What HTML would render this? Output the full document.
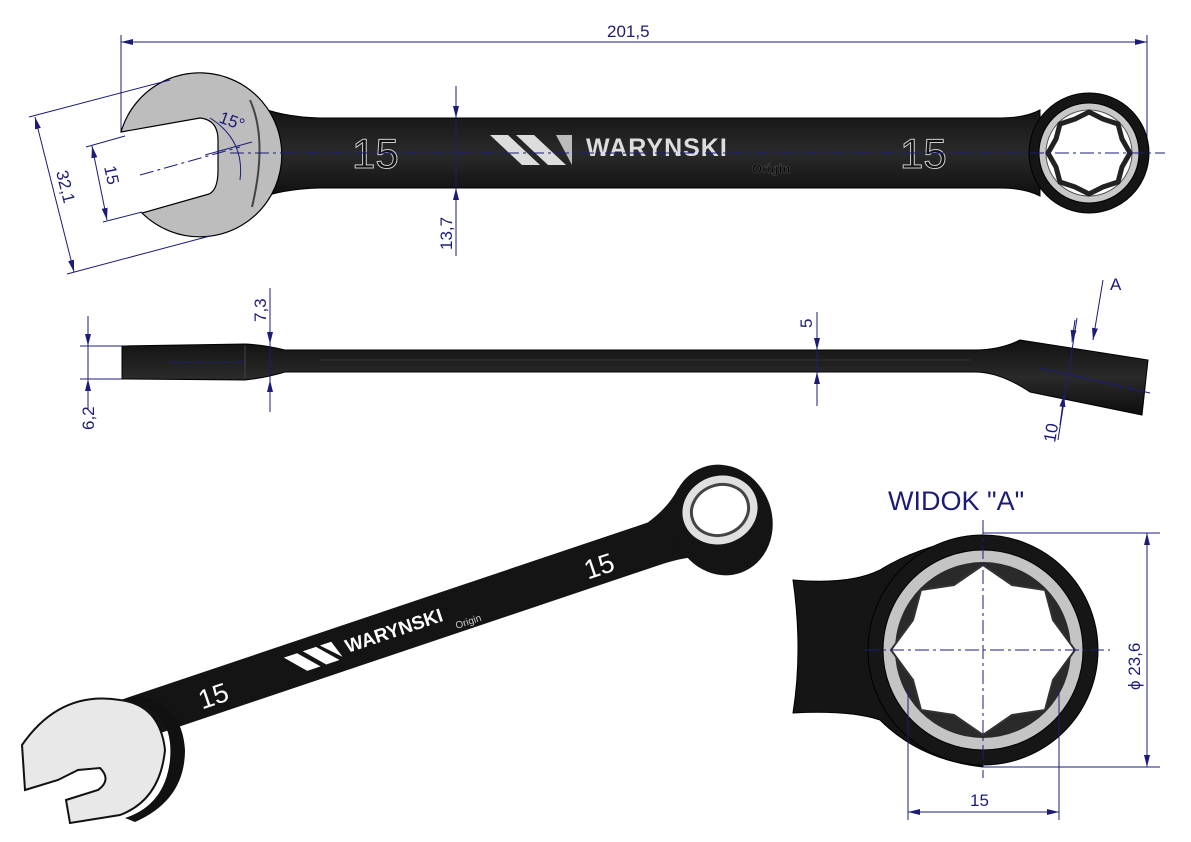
<!DOCTYPE html>
<html><head><meta charset="utf-8"><style>
html,body{margin:0;padding:0;background:#fff;}
svg{display:block;font-family:"Liberation Sans",Arial,sans-serif;}
.d{stroke:#1c1c78;stroke-width:1;fill:none}
.c{stroke:#1c1c78;stroke-width:1;fill:none;stroke-dasharray:14 4 3 4}
.t{fill:#1c1c78;font-size:17px}
</style></head><body>
<svg width="1191" height="842" viewBox="0 0 1191 842" xmlns="http://www.w3.org/2000/svg">
<defs>
<marker id="a" viewBox="0 0 12 6" refX="12" refY="3" markerWidth="12" markerHeight="6" orient="auto-start-reverse" markerUnits="userSpaceOnUse"><path d="M0,0 L12,3 L0,6z" fill="#1c1c78"/></marker>
<linearGradient id="hg" x1="0" y1="0" x2="0" y2="1"><stop offset="0" stop-color="#111"/><stop offset="0.5" stop-color="#2a2a2a"/><stop offset="1" stop-color="#0d0d0d"/></linearGradient>
</defs>

<!-- ===== TOP VIEW ===== -->
<line class="d" x1="121" y1="35" x2="121" y2="132"/>
<line class="d" x1="1147" y1="35" x2="1147" y2="150"/>
<line class="d" x1="121" y1="42" x2="1147" y2="42" marker-start="url(#a)" marker-end="url(#a)"/>
<text class="t" x="607" y="37">201,5</text>

<path d="M255,105 Q280,117 320,118 L1000,118 Q1025,118 1040,110 L1040,196 Q1025,188 1000,188 L320,188 Q280,189 255,200z" fill="url(#hg)" stroke="#000"/>
<path d="M121,132 A82,82 0 1 1 142,213 L209,194 Q218,190 218,170 L218,140 Q218,120 200,118z" fill="#bdbdbd" stroke="#000" stroke-width="1.2"/>
<path d="M250,100 Q268,140 252,207" fill="none" stroke="#444" stroke-width="2"/>
<circle cx="1089" cy="153" r="60" fill="#151515" stroke="#000"/>
<circle cx="1089" cy="153" r="50" fill="#c8c8c8" stroke="#000"/>
<circle cx="1089" cy="153" r="43" fill="#fff" stroke="#555"/>
<polygon points="1089,112 1103,119 1118,124 1122,139 1130,153 1122,167 1118,182 1103,187 1089,194 1075,187 1060,182 1056,167 1048,153 1056,139 1060,124 1075,119" fill="#fff" stroke="#222" stroke-width="5"/>
<text x="352" y="168" font-size="42" fill="#111" stroke="#ccc" stroke-width="1">15</text>
<text x="900" y="168" font-size="42" fill="#111" stroke="#ccc" stroke-width="1">15</text>
<polygon points="490,135 508,135 540,165 522,165" fill="#ddd"/>
<polygon points="516,135 534,135 566,165 548,165" fill="#ddd"/>
<polygon points="556,135 572,135 572,165" fill="#bbb"/>
<text x="586" y="156" font-size="25" font-weight="bold" fill="#ddd" letter-spacing="1">WARYNSKI</text>
<text x="752" y="173" font-size="13" font-weight="bold" fill="#000" stroke="#555" stroke-width="0.5">Origin</text>
<line class="c" x1="230" y1="153" x2="1165" y2="153"/>
<line class="c" x1="140" y1="175" x2="240" y2="147"/>
<line class="d" x1="456" y1="86" x2="456" y2="256"/>
<line class="d" x1="456" y1="86" x2="456" y2="118" marker-end="url(#a)"/>
<line class="d" x1="456" y1="256" x2="456" y2="188" marker-end="url(#a)"/>
<text class="t" transform="translate(452,250) rotate(-90)">13,7</text>
<line class="d" x1="29" y1="117" x2="170" y2="80"/>
<line class="d" x1="67" y1="274" x2="210" y2="236"/>
<line class="d" x1="35" y1="117" x2="74" y2="272" marker-start="url(#a)" marker-end="url(#a)"/>
<text class="t" transform="translate(56,172) rotate(76)">32,1</text>
<line class="d" x1="86" y1="147" x2="125" y2="136"/>
<line class="d" x1="103" y1="222" x2="142" y2="212"/>
<line class="d" x1="92" y1="146" x2="107" y2="220" marker-start="url(#a)" marker-end="url(#a)"/>
<text class="t" transform="translate(104,167) rotate(78)">15</text>
<path class="d" d="M210,118 Q245,140 240,180" />
<line class="d" x1="205" y1="155" x2="252" y2="142"/>
<text class="t" transform="translate(218,122) rotate(20)">15°</text>

<!-- ===== SIDE VIEW ===== -->
<path d="M122,346 L245,344 Q265,345 285,350 L975,350 Q1000,350 1020,340 L1148,360 L1142,415 L1030,392 Q1000,372 975,372 L285,372 Q265,378 245,380 L122,379z" fill="url(#hg)" stroke="#000"/>
<line x1="320" y1="360" x2="970" y2="360" stroke="#333"/>
<line x1="245" y1="346" x2="245" y2="379" stroke="#444"/>
<line class="d" x1="170" y1="362" x2="245" y2="362" style="stroke-dasharray:10 3"/>
<line class="d" x1="1040" y1="368" x2="1150" y2="393"/>
<line class="d" x1="80" y1="346" x2="122" y2="346"/>
<line class="d" x1="80" y1="379" x2="122" y2="379"/>
<line class="d" x1="88" y1="316" x2="88" y2="346" marker-end="url(#a)"/>
<line class="d" x1="88" y1="410" x2="88" y2="379" marker-end="url(#a)"/>
<line class="d" x1="88" y1="346" x2="88" y2="379"/>
<text class="t" transform="translate(94,430) rotate(-90)">6,2</text>
<line class="d" x1="270" y1="288" x2="270" y2="412"/>
<line class="d" x1="270" y1="320" x2="270" y2="344" marker-end="url(#a)"/>
<line class="d" x1="270" y1="400" x2="270" y2="380" marker-end="url(#a)"/>
<text class="t" transform="translate(266,322) rotate(-90)">7,3</text>
<line class="d" x1="817" y1="312" x2="817" y2="406"/>
<line class="d" x1="817" y1="330" x2="817" y2="350" marker-end="url(#a)"/>
<line class="d" x1="817" y1="395" x2="817" y2="372" marker-end="url(#a)"/>
<text class="t" transform="translate(812,328) rotate(-90)">5</text>
<line class="d" x1="1077" y1="318" x2="1058" y2="440"/>
<line class="d" x1="1075" y1="320" x2="1072" y2="342" marker-end="url(#a)"/>
<line class="d" x1="1060" y1="425" x2="1064" y2="395" marker-end="url(#a)"/>
<text class="t" transform="translate(1055,443) rotate(-80)">10</text>
<line class="d" x1="1103" y1="280" x2="1093" y2="340" marker-end="url(#a)"/>
<text class="t" x="1110" y="290" font-size="20">A</text>

<!-- ===== 3D VIEW ===== -->
<g transform="translate(124,722) rotate(-18.6)">
<path d="M-10,-22 L560,-22 Q585,-30 600,-45 L610,30 Q585,22 560,22 L-10,22z" fill="#141414"/>
<text x="78" y="13" font-size="27" fill="#fff">15</text>
<text x="485" y="13" font-size="27" fill="#fff">15</text>
<polygon points="172,-10 186,-10 204,10 190,10" fill="#fff"/>
<polygon points="192,-10 206,-10 224,10 210,10" fill="#fff"/>
<polygon points="210,-10 222,-10 228,8" fill="#fff"/>
<text x="234" y="6" font-size="19" font-weight="bold" fill="#fff">WARYNSKI</text>
<text x="345" y="18" font-size="10" fill="#ccc">Origin</text>
</g>
<ellipse cx="722" cy="520" rx="50" ry="56" transform="rotate(-20 722 520)" fill="#141414"/>
<ellipse cx="720" cy="510" rx="38" ry="34" transform="rotate(-20 720 510)" fill="#e0e0e0"/>
<ellipse cx="720" cy="510" rx="29" ry="25" transform="rotate(-20 720 510)" fill="#fff" stroke="#444" stroke-width="3"/>
<path d="M120,700 Q175,705 170,760 Q165,805 125,818 L135,822 Q185,800 185,750 Q182,703 138,696z" fill="#111"/>
<path d="M22,745 Q60,690 120,700 Q160,705 165,750 Q160,800 120,815 L70,823 L66,800 L98,790 Q112,780 100,768 L78,770 L58,780 L25,790z" fill="#e8e8e8" stroke="#111" stroke-width="2"/>

<!-- ===== WIDOK A ===== -->
<text x="888" y="510" font-size="27" fill="#1c1c78">WIDOK "A"</text>
<path d="M793,580 Q850,585 880,570 Q920,545 983,535 L983,767 Q920,760 880,720 Q850,710 793,713 Q803,650 793,580z" fill="#151515" stroke="#000"/>
<circle cx="983" cy="650" r="115" fill="#161616" stroke="#000"/>
<circle cx="983" cy="650" r="100" fill="#c4c4c4" stroke="#000"/>
<circle cx="983" cy="650" r="88" fill="#2a2a2a"/>
<polygon points="983,565 1012,585 1045,590 1053,620 1075,650 1053,680 1045,710 1012,715 983,735 954,715 921,710 913,680 891,650 913,620 921,590 954,585" fill="#fff" stroke="#333" stroke-width="2"/>
<line class="c" x1="865" y1="650" x2="1110" y2="650"/>
<line class="c" x1="983" y1="520" x2="983" y2="778"/>
<line class="d" x1="983" y1="533" x2="1160" y2="533"/>
<line class="d" x1="983" y1="767" x2="1160" y2="767"/>
<line class="d" x1="1147" y1="533" x2="1147" y2="767" marker-start="url(#a)" marker-end="url(#a)"/>
<text class="t" transform="translate(1140,690) rotate(-90)">ϕ 23,6</text>
<line class="d" x1="908" y1="690" x2="908" y2="820"/>
<line class="d" x1="1059" y1="690" x2="1059" y2="820"/>
<line class="d" x1="908" y1="812" x2="1059" y2="812" marker-start="url(#a)" marker-end="url(#a)"/>
<text class="t" x="970" y="806">15</text>
</svg>
</body></html>
